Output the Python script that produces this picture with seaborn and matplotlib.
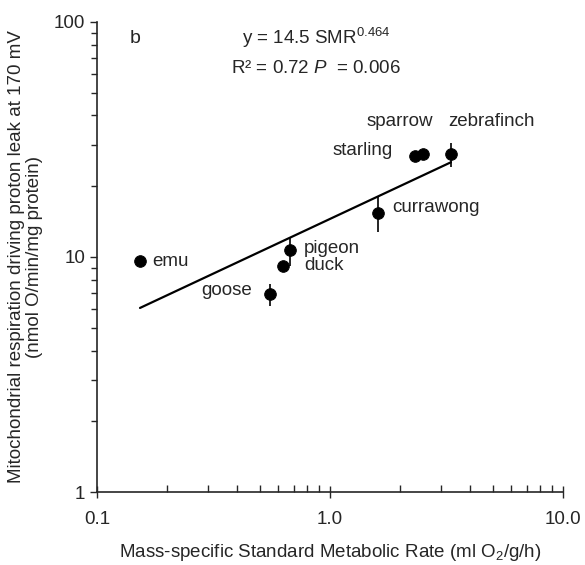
import numpy as np
import pandas as pd
import seaborn as sns
import matplotlib.pyplot as plt
from matplotlib.ticker import LogLocator, FixedLocator, NullFormatter

# data
birds = ["emu", "goose", "duck", "pigeon", "currawong", "starling", "sparrow", "zebrafinch"]
smr = [0.153, 0.553, 0.628, 0.673, 1.61, 2.32, 2.51, 3.31]
leak = [9.6, 6.96, 9.16, 10.7, 15.4, 26.9, 27.4, 27.4]
leak_err = [0.5, 0.75, 0.4, 1.5, 2.6, 1.0, 1.5, 3.3]

# fitted line endpoints (y = 14.5 SMR^0.464)
fit_x = [0.153, 3.31]
fit_y = [6.07, 25.3]

# label anchor points (data coords) for the bird names
label_x = [0.172, 0.279, 0.773, 0.773, 1.86, 1.03, 1.44, 3.21]
label_y = [9.6, 7.17, 9.16, 10.9, 16.2, 28.5, 37.6, 37.6]

sns.set_style("ticks")
plt.rcParams["font.family"] = ["Liberation Sans", "DejaVu Sans"]
plt.rcParams["mathtext.fontset"] = "custom"
plt.rcParams["mathtext.rm"] = "Liberation Sans"
plt.rcParams["mathtext.it"] = "Liberation Sans:italic"

df = pd.DataFrame({"bird": birds, "smr": smr, "leak": leak, "err": leak_err})
fit = pd.DataFrame({"x": fit_x, "y": fit_y})

fig = plt.figure(figsize=(5.85, 5.65), dpi=100)
ax = fig.add_axes([0.1658, 0.1292, 0.7962, 0.8319])

ax.errorbar(df["smr"], df["leak"], yerr=df["err"], fmt="none", ecolor="black", elinewidth=1.2, capsize=0)
sns.lineplot(data=fit, x="x", y="y", color="black", linewidth=1.6, ax=ax)
sns.scatterplot(data=df, x="smr", y="leak", color="black", s=70, edgecolor="black", zorder=3, ax=ax)

ax.set_xscale("log")
ax.set_yscale("log")
ax.set_xlim(0.1, 10)
ax.set_ylim(1, 100)

ax.xaxis.set_major_locator(FixedLocator([0.1, 1, 10]))
ax.set_xticklabels(["0.1", "1.0", "10.0"])
ax.yaxis.set_major_locator(FixedLocator([1, 10, 100]))
ax.set_yticklabels(["1", "10", "100"])
ax.xaxis.set_minor_locator(LogLocator(base=10, subs=np.arange(2, 10)))
ax.yaxis.set_minor_locator(LogLocator(base=10, subs=np.arange(2, 10)))
ax.xaxis.set_minor_formatter(NullFormatter())
ax.yaxis.set_minor_formatter(NullFormatter())
ax.tick_params(axis="x", which="major", direction="inout", length=8, width=1, labelsize=13.5, pad=10)
ax.tick_params(axis="x", which="minor", direction="in", length=5, width=1)
ax.tick_params(axis="y", which="major", direction="out", length=5, width=1, labelsize=13.5)
ax.tick_params(axis="y", which="minor", direction="out", length=4, width=1)

sns.despine(ax=ax)
for s in ["left", "bottom"]:
    ax.spines[s].set_linewidth(1.2)

ax.set_xlabel("Mass-specific Standard Metabolic Rate (ml O$_2$/g/h)", fontsize=13.5, labelpad=10)
ax.set_ylabel("Mitochondrial respiration driving proton leak at 170 mV\n(nmol O/min/mg protein)",
              fontsize=13.5, labelpad=8, linespacing=1.05)

for name, lx, ly in zip(birds, label_x, label_y):
    ax.text(lx, ly, name, fontsize=13.5, va="center", ha="left")

ax.text(0.07, 0.965, "b", transform=ax.transAxes, fontsize=14, va="center")
ax.text(0.47, 0.965, "y = 14.5 SMR$^{0.464}$", transform=ax.transAxes, fontsize=13.5, ha="center", va="center")
ax.text(0.47, 0.90, "R² = 0.72 $P$  = 0.006", transform=ax.transAxes, fontsize=13.5, ha="center", va="center")

fig.savefig("out.png", dpi=100)
